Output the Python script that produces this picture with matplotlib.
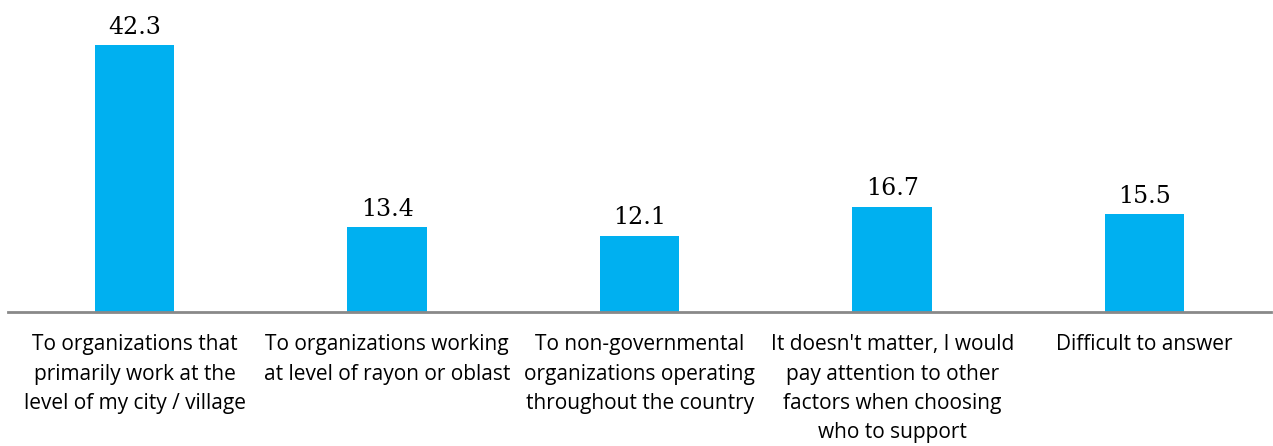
import matplotlib.pyplot as plt

# Data
categories = [
    "To organizations that\nprimarily work at the\nlevel of my city / village",
    "To organizations working\nat level of rayon or oblast",
    "To non-governmental\norganizations operating\nthroughout the country",
    "It doesn't matter, I would\npay attention to other\nfactors when choosing\nwho to support",
    "Difficult to answer",
]
values = [42.3, 13.4, 12.1, 16.7, 15.5]

fig = plt.figure(figsize=(12.73, 4.46), dpi=100)
ax = fig.add_axes([0.0066, 0.3004, 0.9918, 0.6996])

x = range(len(values))
bars = ax.bar(x, values, width=0.315, color="#00B0F0")

ax.set_xlim(-0.5, len(values) - 0.5)
ax.set_ylim(0, 49.4)

for b, v in zip(bars, values):
    ax.text(b.get_x() + b.get_width() / 2, v + 1.0, f"{v:.1f}",
            ha="center", va="bottom", fontsize=17, family="DejaVu Serif")

ax.set_xticks(list(x))
ax.set_xticklabels(categories, fontsize=15, family="Open Sans", linespacing=1.52)
ax.tick_params(axis="x", length=0, pad=16)
ax.set_yticks([])

for s in ["top", "right", "left"]:
    ax.spines[s].set_visible(False)
ax.spines["bottom"].set_color("#898989")
ax.spines["bottom"].set_linewidth(2)

fig.savefig("out.png", dpi=100)
